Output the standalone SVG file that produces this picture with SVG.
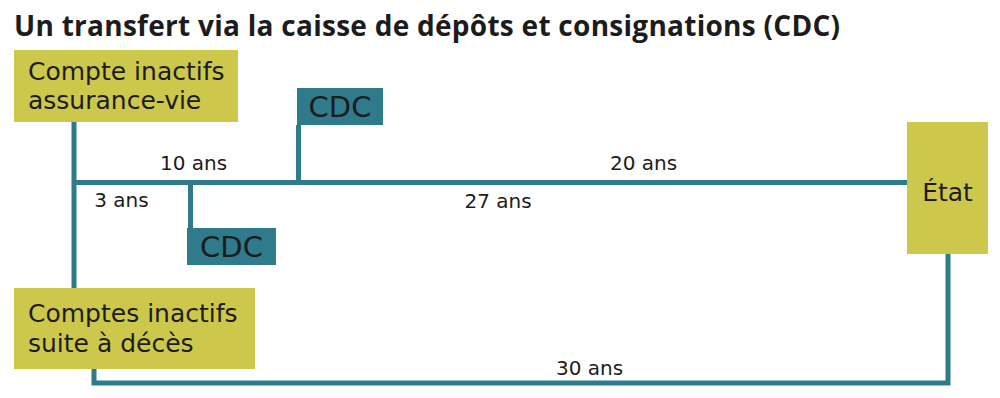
<svg xmlns="http://www.w3.org/2000/svg" width="1000" height="398" viewBox="0 0 1000 398">
<style>
.t{font-family:"DejaVu Sans","Liberation Sans",sans-serif;fill:#1c1c1c}
.title{font-family:"Open Sans","Liberation Sans",sans-serif;font-size:28px;font-weight:700}
.lbl{font-size:25px}
.cdc{font-size:29px}
.dur{font-size:20px}
.ol{fill:#cdc84b}
.tl{fill:#2f7b8c}
.ln{fill:none;stroke:#2f7b8c;stroke-width:5}
</style>
<rect width="1000" height="398" fill="#fff"/>
<text class="t title" x="14" y="36" textLength="826" lengthAdjust="spacing">Un transfert via la caisse de dépôts et consignations (CDC)</text>
<g id="connectors">
<path class="ln" d="M74 122 V288"/>
<path class="ln" d="M72 182.5 H908"/>
<path class="ln" d="M298.5 125 V182"/>
<path class="ln" d="M190.5 182 V229"/>
<path class="ln" d="M94 369 V383 H948 V254"/>
</g>
<g id="compte-assurance-vie">
<rect class="ol" x="14" y="50" width="224" height="72"/>
<text class="t lbl" x="28" y="80">Compte inactifs</text>
<text class="t lbl" x="28" y="109">assurance-vie</text>
</g>
<g id="cdc-top">
<rect class="tl" x="297" y="88" width="86" height="37"/>
<text class="t cdc" x="340" y="117" text-anchor="middle">CDC</text>
</g>
<g id="cdc-bottom">
<rect class="tl" x="187" y="228" width="89" height="37"/>
<text class="t cdc" x="231.5" y="257" text-anchor="middle">CDC</text>
</g>
<g id="comptes-deces">
<rect class="ol" x="14" y="288" width="241" height="81"/>
<text class="t lbl" x="28" y="322">Comptes inactifs</text>
<text class="t lbl" x="28" y="352">suite à décès</text>
</g>
<g id="etat">
<rect class="ol" x="907" y="122" width="81" height="132"/>
<text class="t lbl" x="947.5" y="201" text-anchor="middle">État</text>
</g>
<g id="labels">
<text class="t dur" x="193.5" y="170" text-anchor="middle">10 ans</text>
<text class="t dur" x="121.5" y="207" text-anchor="middle">3 ans</text>
<text class="t dur" x="643.5" y="170" text-anchor="middle">20 ans</text>
<text class="t dur" x="498" y="208" text-anchor="middle">27 ans</text>
<text class="t dur" x="589.5" y="375" text-anchor="middle">30 ans</text>
</g>
</svg>
